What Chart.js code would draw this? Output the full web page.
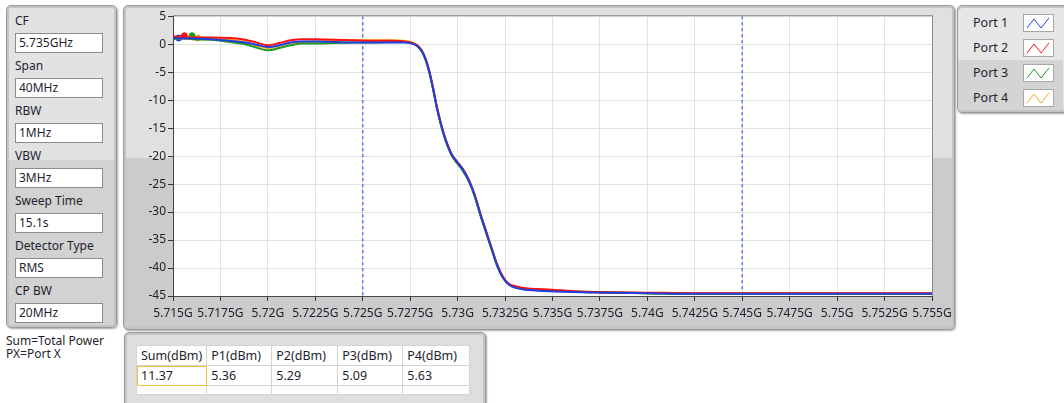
<!DOCTYPE html>
<html>
<head>
<meta charset="utf-8">
<script src="https://cdn.jsdelivr.net/npm/chart.js@4.4.1/dist/chart.umd.min.js"></script>
<style>
  body { margin: 0; width: 1064px; height: 403px; background: #fff; position: relative; overflow: hidden;
         font-family: "Noto Sans", "Open Sans", sans-serif; font-size: 12px; color: #1e1e2e; }
  .panel { position: absolute; border: 1px solid #9a9a9a; border-radius: 5px;
           box-shadow: 1px 1px 2px rgba(0,0,0,0.35), inset 0 0 0 2px #c4c4c4;
           background: linear-gradient(#e2e2e2 0, #e2e2e2 48%, #d2d2d2 48%, #d2d2d2 100%); }
  .lbl { position: absolute; left: 15px; }
  .box { position: absolute; left: 15px; width: 88px; height: 20px; background: #fff; border: 1px solid #8c8c8c;
         box-sizing: border-box; padding-left: 3px; line-height: 18px; }
  #chartPanel { background: linear-gradient(#e0e0e0 0, #e0e0e0 47%, #cbcbcb 47%, #cbcbcb 100%); }
  #chartWrap { position: absolute; left: 125px; top: 7px; width: 830px; height: 320px; }
  .leg { position: absolute; left: 0; width: 105px; height: 25px; }
  .leg span { position: absolute; left: 15px; top: 4px; font-size: 12.5px; }
  .leg svg { position: absolute; left: 65px; top: 4px; }
  table { position: absolute; left: 11px; top: 12px; border-collapse: collapse; background: #fff; }
  td { border: 1px solid #d4d4d4; padding: 0 4px; height: 19px; font-size: 12.5px; }
</style>
</head>
<body>

<div class="panel" style="left:6px; top:5px; width:109px; height:321px;"></div>
<div id="leftCol"></div>
<div style="position:absolute; left:6px; top:334px; line-height:13px;">Sum=Total Power<br>PX=Port X</div>

<div id="chartPanel" class="panel" style="left:123px; top:5px; width:830px; height:323px;"></div>
<div id="chartWrap"><canvas id="chart"></canvas></div>

<div class="panel" style="left:957px; top:5px; width:110px; height:106px; overflow:hidden; background:#e6e6e6;">
  <div id="legend"></div>
</div>

<div class="panel" style="left:124px; top:332px; width:360px; height:80px; background:#dedede;">
  <table id="powerTable"></table>
</div>

<script>
// spectrum analyser settings shown in the left column
const settingNames = ["CF", "Span", "RBW", "VBW", "Sweep Time", "Detector Type", "CP BW"];
const settingValues = ["5.735GHz", "40MHz", "1MHz", "3MHz", "15.1s", "RMS", "20MHz"];

// channel power table
const powerHeaders = ["Sum(dBm)", "P1(dBm)", "P2(dBm)", "P3(dBm)", "P4(dBm)"];
const powerValues = ["11.37", "5.36", "5.29", "5.09", "5.63"];

const portNames = ["Port 1", "Port 2", "Port 3", "Port 4"];
const portColors = ["#1f3fe0", "#ff1010", "#1e9a1e", "#ffa31a"];

// x axis (GHz)
const xTickValues = [5.715, 5.7175, 5.72, 5.7225, 5.725, 5.7275, 5.73, 5.7325, 5.735,
  5.7375, 5.74, 5.7425, 5.745, 5.7475, 5.75, 5.7525, 5.755];
const cursorFreqs = [5.725, 5.745];

const freqGHz = [5.7150, 5.7155, 5.7160, 5.7170, 5.7180, 5.7188, 5.7194, 5.7200, 5.7206, 5.7212,
  5.7218, 5.7225, 5.7235, 5.7245, 5.7255, 5.7265, 5.7272, 5.7276, 5.7279, 5.7281,
  5.7283, 5.7285, 5.7287, 5.7289, 5.7291, 5.7293, 5.7295, 5.7297, 5.7300, 5.7303,
  5.7306, 5.7309, 5.7312, 5.7315, 5.7318, 5.7321, 5.7324, 5.7327, 5.7331, 5.7336,
  5.7345, 5.7360, 5.7375, 5.7400, 5.7425, 5.7450, 5.7475, 5.7500, 5.7525, 5.7550];

const port1 = [1.1, 1.0, 1.0, 0.9, 0.6, 0.3, -0.1, -0.5, -0.2, 0.3,
  0.5, 0.5, 0.4, 0.3, 0.3, 0.3, 0.3, 0.1, -0.4, -1.2,
  -2.6, -4.8, -7.8, -11.2, -14.0, -16.4, -18.3, -19.8, -21.2, -22.5,
  -24.4, -27.0, -30.4, -33.5, -36.6, -39.6, -41.8, -43.0, -43.6, -43.9,
  -44.1, -44.3, -44.4, -44.5, -44.6, -44.6, -44.6, -44.6, -44.6, -44.6];
const port2 = [1.4, 1.3, 1.2, 1.2, 1.1, 0.8, 0.3, -0.2, 0.2, 0.7,
  0.9, 0.9, 0.8, 0.7, 0.6, 0.6, 0.5, 0.2, -0.3, -1.1,
  -2.5, -4.7, -7.7, -11.0, -13.9, -16.3, -18.2, -19.7, -21.1, -22.4,
  -24.3, -26.9, -30.3, -33.4, -36.5, -39.5, -41.6, -42.8, -43.3, -43.6,
  -43.8, -44.1, -44.3, -44.4, -44.5, -44.5, -44.5, -44.5, -44.5, -44.5];
const port3 = [0.9, 1.1, 0.9, 0.8, 0.4, 0.0, -0.6, -1.1, -0.7, -0.2,
  0.1, 0.1, 0.2, 0.3, 0.3, 0.4, 0.4, 0.2, -0.4, -1.2,
  -2.7, -5.0, -8.0, -11.4, -14.2, -16.6, -18.5, -20.0, -21.4, -22.8,
  -24.6, -27.2, -30.6, -33.7, -36.8, -39.8, -41.8, -42.9, -43.4, -43.7,
  -43.9, -44.2, -44.3, -44.5, -44.6, -44.6, -44.6, -44.6, -44.6, -44.6];
const port4 = [1.1, 1.0, 1.0, 1.0, 0.8, 0.4, -0.2, -0.7, -0.3, 0.2,
  0.4, 0.5, 0.6, 0.7, 0.7, 0.7, 0.6, 0.3, -0.3, -1.1,
  -2.6, -4.8, -7.8, -11.2, -14.1, -16.5, -18.4, -19.9, -21.3, -22.6,
  -24.5, -27.1, -30.5, -33.6, -36.7, -39.7, -41.7, -42.9, -43.5, -43.8,
  -44.0, -44.2, -44.4, -44.5, -44.6, -44.6, -44.5, -44.6, -44.6, -44.6];

// the little dots LabVIEW leaves at the start of each trace
const markerFreq = [5.7153, 5.7156, 5.7160, 5.7163];
const markerLevel = [1.1, 1.5, 1.5, 1.1];

// ---- left column
let html = "";
settingNames.forEach((n, i) => {
  const top = 12 + i * 45;
  html += '<div class="lbl" style="top:' + top + 'px">' + n + '</div>';
  html += '<div class="box" style="top:' + (top + 21) + 'px">' + settingValues[i] + '</div>';
});
document.getElementById("leftCol").innerHTML = html;

// ---- legend
let lg = "";
portNames.forEach((n, i) => {
  const bg = i < 2 ? "#e6e6e6" : "#d4d4d4";
  lg += '<div class="leg" style="top:' + (i * 25 + 4) + 'px; background:' + bg + '">' +
    '<span>' + n + '</span>' +
    '<svg width="31" height="18"><rect x="0.5" y="0.5" width="30" height="17" fill="#fff" stroke="#a8a8a8"/>' +
    '<polyline points="4,14 11,5 18,14 26,4" fill="none" stroke="' + portColors[i] + '" stroke-width="1"/></svg></div>';
});
document.getElementById("legend").innerHTML = lg;

// ---- table
const widths = [70, 65, 66, 65, 67];
let tb = "<tr>" + powerHeaders.map((h, i) => '<td style="width:' + (widths[i] - 9) + 'px">' + h + "</td>").join("") + "</tr>";
tb += "<tr>" + powerValues.map((v, i) => '<td' + (i === 0 ? ' style="outline:1px solid #f0c040; outline-offset:-1px"' : '') + '>' + v + "</td>").join("") + "</tr>";
tb += "<tr>" + powerValues.map(() => '<td style="height:8px"></td>').join("") + "</tr>";
document.getElementById("powerTable").innerHTML = tb;

// ---- chart
const ports = [port1, port2, port3, port4];
const datasets = [];
ports.forEach((vals, i) => {
  datasets.push({
    label: portNames[i],
    data: freqGHz.map((f, k) => ({ x: f, y: vals[k] })),
    borderColor: portColors[i],
    borderWidth: 2,
    pointRadius: 0,
    cubicInterpolationMode: "monotone",
    fill: false
  });
});
ports.forEach((vals, i) => {
  datasets.push({
    label: portNames[i] + " start",
    data: [{ x: markerFreq[i], y: markerLevel[i] }],
    borderColor: portColors[i],
    backgroundColor: portColors[i],
    pointRadius: 3,
    showLine: false
  });
});
cursorFreqs.forEach(f => {
  datasets.push({
    label: "cursor",
    data: [{ x: f, y: 5 }, { x: f, y: -45 }],
    borderColor: "#5577ee",
    borderWidth: 1.5,
    borderDash: [3, 3],
    pointRadius: 0
  });
});

const plotBg = {
  id: "plotBg",
  beforeDraw(chart) {
    const a = chart.chartArea, c = chart.ctx;
    c.save();
    c.fillStyle = "#fff";
    c.fillRect(a.left, a.top, a.right - a.left, a.bottom - a.top);
    c.restore();
  },
  afterDraw(chart) {
    const a = chart.chartArea, c = chart.ctx;
    c.save();
    c.strokeStyle = "#8a8a8a";
    c.lineWidth = 1;
    c.beginPath();
    c.moveTo(a.left, a.top - 0.5);
    c.lineTo(a.right + 0.5, a.top - 0.5);
    c.lineTo(a.right + 0.5, a.bottom);
    c.stroke();
    c.restore();
  }
};

new Chart(document.getElementById("chart"), {
  type: "line",
  data: { datasets: datasets },
  plugins: [plotBg],
  options: {
    responsive: true,
    maintainAspectRatio: false,
    animation: false,
    layout: { padding: { top: 7, right: 23, left: 0, bottom: 0 } },
    plugins: { legend: { display: false }, tooltip: { enabled: false } },
    scales: {
      x: {
        type: "linear",
        min: 5.715,
        max: 5.755,
        afterBuildTicks: s => { s.ticks = xTickValues.map(v => ({ value: v })); },
        afterFit: s => { s.height = 31; s.paddingRight = 0; s.paddingLeft = 0; },
        border: { color: "#444", width: 1 },
        grid: { color: "#e2e2e2", tickColor: "#333", tickLength: 5 },
        ticks: {
          autoSkip: false, maxRotation: 0, padding: 5,
          color: "#1e1e2e", font: { family: "Noto Sans", size: 12 },
          callback: v => parseFloat(v.toFixed(4)) + "G"
        }
      },
      y: {
        min: -45,
        max: 5,
        afterFit: s => { s.width = 48; },
        border: { color: "#444", width: 1 },
        grid: { color: "#e2e2e2", tickColor: "#333", tickLength: 5 },
        ticks: {
          stepSize: 5, padding: 2,
          color: "#1e1e2e", font: { family: "Noto Sans", size: 12 }
        }
      }
    }
  }
});
</script>
</body>
</html>
